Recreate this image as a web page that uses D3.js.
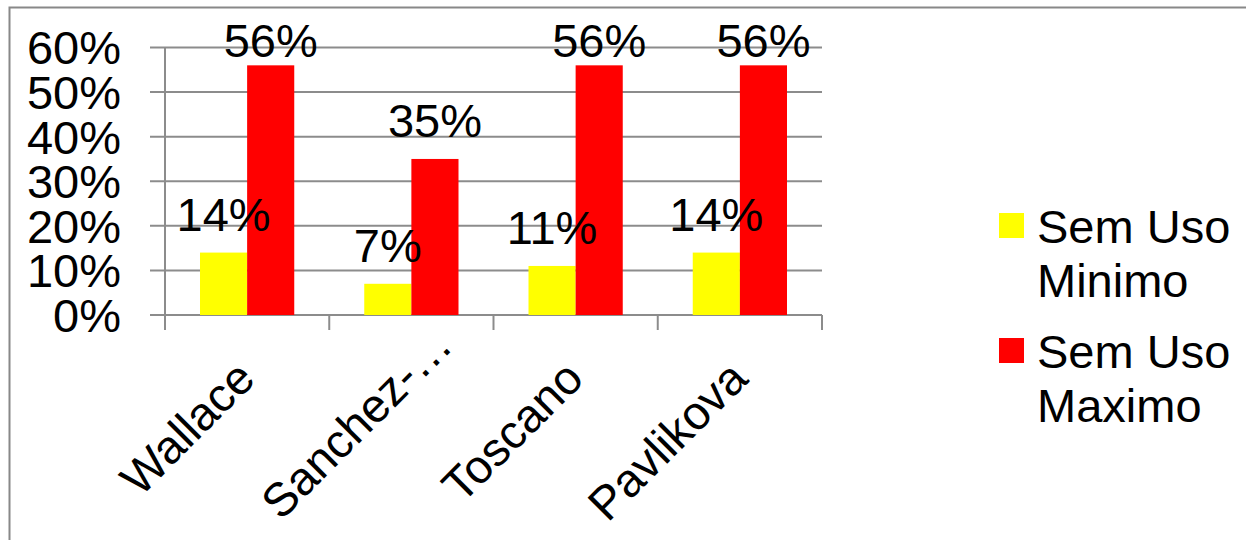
<!DOCTYPE html>
<html>
<head>
<meta charset="utf-8">
<script src="https://cdn.jsdelivr.net/npm/d3@7"></script>
<style>
  body { margin: 0; background: #fff; }
  svg { display: block; font-family: "Liberation Sans", Arial, sans-serif; }
</style>
</head>
<body>
<div id="chart"></div>
<script>
const categories = ["Wallace", "Sanchez-…", "Toscano", "Pavlikova"];
const seriesNames = ["Sem Uso Minimo", "Sem Uso Maximo"];
const legendLines = [["Sem Uso", "Minimo"], ["Sem Uso", "Maximo"]];
const semUsoMinimo = [0.14, 0.07, 0.11, 0.14];
const semUsoMaximo = [0.56, 0.35, 0.56, 0.56];
const yTicks = [0, 0.1, 0.2, 0.3, 0.4, 0.5, 0.6];
const colors = ["#FFFF00", "#FF0000"];

const width = 1246;
const height = 540;
const fontSize = 47;

const rows = categories.map((c, i) => ({
  cat: c,
  values: [semUsoMinimo[i], semUsoMaximo[i]]
}));

const svg = d3.select("#chart")
  .append("svg")
  .attr("width", width)
  .attr("height", height);

// outer chart border (runs off the right and bottom edges)
svg.append("rect")
  .attr("x", 9.5)
  .attr("y", 7.5)
  .attr("width", 1300)
  .attr("height", 600)
  .attr("fill", "none")
  .attr("stroke", "#888")
  .attr("stroke-width", 2);

const x0 = d3.scaleBand()
  .domain(categories)
  .range([165, 822]);

const x1 = d3.scaleBand()
  .domain(seriesNames)
  .range([35, x0.bandwidth() - 35]);

const y = d3.scaleLinear()
  .domain([0, 0.6])
  .range([315, 47.5]);

// gridlines
svg.append("g")
  .selectAll("line")
  .data(yTicks)
  .enter()
  .append("line")
  .attr("x1", 150)
  .attr("x2", 822)
  .attr("y1", d => y(d))
  .attr("y2", d => y(d))
  .attr("stroke", "#8c8c8c")
  .attr("stroke-width", 2);

// y axis line
svg.append("line")
  .attr("x1", 165).attr("x2", 165)
  .attr("y1", y(0.6)).attr("y2", 330)
  .attr("stroke", "#8c8c8c")
  .attr("stroke-width", 2);

// category ticks
svg.append("g")
  .selectAll("line")
  .data(categories.concat(["end"]))
  .enter()
  .append("line")
  .attr("x1", (d, i) => 165 + i * x0.step())
  .attr("x2", (d, i) => 165 + i * x0.step())
  .attr("y1", y(0))
  .attr("y2", 330)
  .attr("stroke", "#8c8c8c")
  .attr("stroke-width", 2);

// y tick labels
svg.append("g")
  .selectAll("text")
  .data(yTicks)
  .enter()
  .append("text")
  .attr("x", 121)
  .attr("y", d => y(d))
  .attr("dy", "0.36em")
  .attr("text-anchor", "end")
  .attr("font-size", fontSize)
  .text(d3.format(".0%"));

// bars
const groups = svg.append("g")
  .selectAll("g")
  .data(rows)
  .enter()
  .append("g")
  .attr("transform", d => `translate(${x0(d.cat)},0)`);

groups.selectAll("rect")
  .data(d => d.values.map((v, i) => ({ key: seriesNames[i], v: v, i: i })))
  .enter()
  .append("rect")
  .attr("x", d => x1(d.key))
  .attr("width", x1.bandwidth())
  .attr("y", d => y(d.v))
  .attr("height", d => y(0) - y(d.v))
  .attr("fill", d => colors[d.i]);

// data labels
groups.selectAll("text")
  .data(d => d.values.map((v, i) => ({ key: seriesNames[i], v: v, i: i })))
  .enter()
  .append("text")
  .attr("x", d => x1(d.key) + x1.bandwidth() / 2)
  .attr("y", d => Math.max(y(d.v) - 22, 57))
  .attr("text-anchor", "middle")
  .attr("font-size", fontSize)
  .text(d => d3.format(".0%")(d.v));

// category labels, rotated; a truncated label lets its ellipsis run past the anchor
svg.append("g")
  .selectAll("text")
  .data(categories)
  .enter()
  .append("text")
  .attr("transform", d => `translate(${x0(d) + x0.bandwidth() / 2 + 10},381) rotate(-45)`)
  .attr("text-anchor", "end")
  .attr("font-size", fontSize)
  .text(d => d)
  .each(function(d) {
    const k = d.indexOf("…");
    if (k >= 0) {
      const w = this.getSubStringLength(k, 1);
      d3.select(this).attr("x", w);
    }
  });

// legend
const legend = svg.append("g")
  .selectAll("g")
  .data(legendLines)
  .enter()
  .append("g")
  .attr("transform", (d, i) => `translate(999,${213 + i * 125})`);

legend.append("rect")
  .attr("width", 25)
  .attr("height", 25)
  .attr("fill", (d, i) => colors[i]);

legend.append("text")
  .attr("font-size", fontSize)
  .selectAll("tspan")
  .data(d => d)
  .enter()
  .append("tspan")
  .attr("x", 38)
  .attr("y", (d, i) => 30 + i * 54)
  .text(d => d);
</script>
</body>
</html>
